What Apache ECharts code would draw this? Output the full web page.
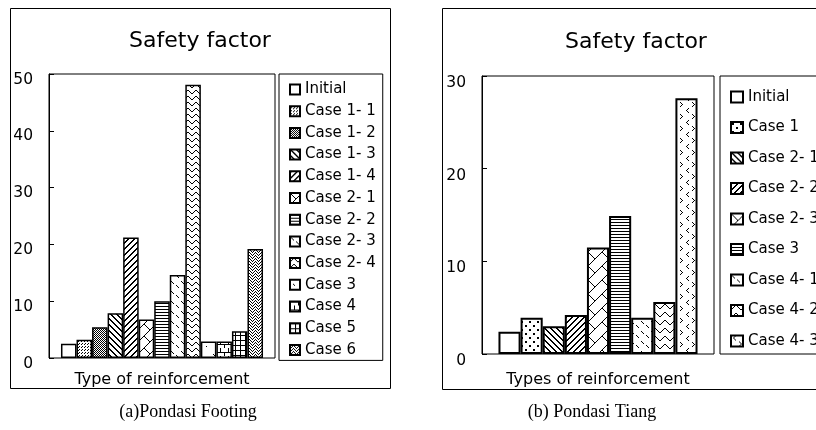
<!DOCTYPE html>
<html>
<head>
<meta charset="utf-8">
<script src="https://cdn.jsdelivr.net/npm/echarts@6/dist/echarts.min.js"></script>
<style>html,body{margin:0;padding:0;background:#fff}#c{width:816px;height:430px}</style>
</head>
<body>
<div id="c"></div>
<script>
// ---- data ----
const leftNames = ['Initial','Case 1- 1','Case 1- 2','Case 1- 3','Case 1- 4','Case 2- 1','Case 2- 2','Case 2- 3','Case 2- 4','Case 3','Case 4','Case 5','Case 6'];
const leftValues = [2.5, 3.2, 5.4, 7.9, 21.2, 6.8, 10.0, 14.6, 48.1, 2.9, 2.9, 4.7, 19.2];
const leftTicks = [0, 10, 20, 30, 40, 50];
const rightNames = ['Initial','Case 1','Case 2- 1','Case 2- 2','Case 2- 3','Case 3','Case 4- 1','Case 4- 2','Case 4- 3'];
const rightValues = [2.4, 3.9, 3.0, 4.2, 11.5, 14.9, 3.9, 5.6, 27.6];
const rightTicks = [0, 10, 20, 30];
const leftTitle = 'Safety factor', rightTitle = 'Safety factor';
const leftXName = 'Type of reinforcement', rightXName = 'Types of reinforcement';
const leftCaption = '(a)Pondasi Footing', rightCaption = '(b) Pondasi Tiang';

// ---- patterns ----
function pixTile(w, h, fn) {
  const c = document.createElement('canvas'); c.width = w; c.height = h;
  const g = c.getContext('2d'); const img = g.createImageData(w, h);
  for (let y = 0; y < h; y++) for (let x = 0; x < w; x++) {
    const v = fn(x, y) ? 0 : 255; const i = (y * w + x) * 4;
    img.data[i] = v; img.data[i+1] = v; img.data[i+2] = v; img.data[i+3] = 255;
  }
  g.putImageData(img, 0, 0);
  return { image: c, repeat: 'repeat' };
}
const P = {
  blank: '#ffffff',
  fineDots: pixTile(3, 3, (x, y) => (x === 1 && y === 1) || (x === 0 && y === 2)),
  denseDots: pixTile(2, 2, (x, y) => (x + y) % 2 === 0),
  diagDown: pixTile(6, 6, (x, y) => ((x - y) % 6 + 6) % 6 < 2),
  diagUp: pixTile(6, 6, (x, y) => (x + y) % 6 < 2),
  herring: pixTile(12, 12, (x, y) => (x + y) % 12 === 11 || (x === y && x < 6)),
  herringL: pixTile(14, 14, (x, y) => (x + y) % 14 === 13 || (x === y && x < 7)),
  hlines: pixTile(4, 3, (x, y) => y === 0),
  dashes: pixTile(10, 10, (x, y) => (x >= 1 && x <= 3 && x === y) || (x >= 6 && x <= 8 && x - y === 1)),
  wave: pixTile(8, 6, (x, y) => y === [3,2,1,0,0,1,2,3][x]),
  waveL: pixTile(10, 8, (x, y) => y === [4,3,2,1,0,0,1,2,3,4][x]),
  sparse: pixTile(14, 14, (x, y) => (x === 3 && y === 4) || (x === 4 && y === 5) || (x === 10 && y === 10)),
  brick: pixTile(8, 8, (x, y) => y === 0 || (y < 4 ? x === 0 : x === 4)),
  grid: pixTile(5, 5, (x, y) => x === 0 || y === 0),
  chev: pixTile(6, 6, (x, y) => y === Math.abs(x - 3) || (y + 3) % 6 === Math.abs(x - 3)),
  dotsSparse: pixTile(8, 8, (x, y) => (x >= 1 && x <= 2 && y >= 1 && y <= 2) || (x >= 5 && x <= 6 && y >= 5 && y <= 6)),
  angles: pixTile(12, 12, (x, y) => {
    const a = [[4,0],[3,1],[2,2],[3,3],[4,4],[8,6],[9,7],[10,8],[9,9],[8,10]];
    return a.some(p => p[0] === x && p[1] === y);
  })
};
const leftFills = [P.blank, P.fineDots, P.denseDots, P.diagDown, P.diagUp, P.herring, P.hlines, P.dashes, P.wave, P.sparse, P.brick, P.grid, P.chev];
const rightFills = [P.blank, P.dotsSparse, P.diagDown, P.diagUp, P.herringL, P.hlines, P.dashes, P.waveL, P.angles];

const FONT = 'DejaVu Sans';
const chart = echarts.init(document.getElementById('c'), null, { renderer: 'canvas' });

function yAxis(gridIndex, ticks, lh) {
  return {
    gridIndex, type: 'value', min: ticks[0], max: ticks[ticks.length - 1], interval: ticks[1] - ticks[0],
    axisLine: { show: true, lineStyle: { color: '#000', width: 1 } },
    axisTick: { show: true, inside: true, length: 5, lineStyle: { color: '#000' } },
    splitLine: { show: false },
    axisLabel: { color: '#000', fontSize: 15.5, fontFamily: FONT, margin: 16, verticalAlign: 'top', lineHeight: lh }
  };
}
function xAxis(gridIndex, name, gap) {
  return {
    gridIndex, type: 'category', data: [''],
    axisLine: { show: false }, axisTick: { show: false }, axisLabel: { show: false },
    name, nameLocation: 'middle', nameGap: gap,
    nameTextStyle: { color: '#000', fontSize: 16, fontFamily: FONT }
  };
}
const series = [];
leftNames.forEach((n, i) => series.push({
  type: 'bar', name: n, xAxisIndex: 0, yAxisIndex: 0, data: [leftValues[i]],
  barGap: '0%', barCategoryGap: '10.6%',
  itemStyle: { color: leftFills[i], borderColor: '#000', borderWidth: 1.5 }
}));
rightNames.forEach((n, i) => series.push({
  type: 'bar', name: 'R|' + n, xAxisIndex: 1, yAxisIndex: 1, data: [rightValues[i]],
  barGap: '0%', barCategoryGap: '14.2%',
  itemStyle: { color: rightFills[i], borderColor: '#000', borderWidth: 2 }
}));

const option = {
  animation: false,
  backgroundColor: '#fff',
  grid: [
    { left: 49, top: 74, width: 226, height: 284, show: true, borderColor: '#000', borderWidth: 1, outerBoundsMode: 'none', containLabel: false },
    { left: 482, top: 76, width: 232, height: 278, show: true, borderColor: '#000', borderWidth: 1, outerBoundsMode: 'none', containLabel: false }
  ],
  xAxis: [xAxis(0, leftXName, 14), xAxis(1, rightXName, 18)],
  yAxis: [yAxis(0, leftTicks, 11), yAxis(1, rightTicks, 14)],
  legend: [
    {
      data: leftNames, orient: 'vertical', left: 279, top: 74,
      padding: [6.5, 7, 1.5, 10], itemGap: 3.7, itemWidth: 10, itemHeight: 10, icon: 'rect',
      borderColor: '#000', borderWidth: 1,
      textStyle: { color: '#000', fontSize: 15, fontFamily: FONT, lineHeight: 10, padding: [8, 0, 0, 0] }
    },
    {
      data: rightNames.map(n => 'R|' + n), orient: 'vertical', left: 720, top: 76,
      padding: [11.5, 10, 3.5, 10], itemGap: 11.5, itemWidth: 12, itemHeight: 11, icon: 'rect',
      borderColor: '#000', borderWidth: 1,
      formatter: n => n.replace('R|', ''),
      textStyle: { color: '#000', fontSize: 15, fontFamily: FONT, lineHeight: 11, padding: [8, 0, 0, 0] }
    }
  ],
  graphic: [
    { type: 'rect', shape: { x: 10.5, y: 8.5, width: 380, height: 380 }, style: { fill: 'none', stroke: '#000', lineWidth: 1 }, silent: true },
    { type: 'rect', shape: { x: 442.5, y: 8.5, width: 420, height: 381 }, style: { fill: 'none', stroke: '#000', lineWidth: 1 }, silent: true },
    { type: 'text', style: { x: 200, y: 41, text: leftTitle, fill: '#000', font: '22px "DejaVu Sans"', textAlign: 'center', textVerticalAlign: 'middle' }, silent: true },
    { type: 'text', style: { x: 636, y: 42, text: rightTitle, fill: '#000', font: '22px "DejaVu Sans"', textAlign: 'center', textVerticalAlign: 'middle' }, silent: true },
    { type: 'text', style: { x: 188, y: 412, text: leftCaption, fill: '#000', font: '18px "Liberation Serif"', textAlign: 'center', textVerticalAlign: 'middle' }, silent: true },
    { type: 'text', style: { x: 592, y: 412, text: rightCaption, fill: '#000', font: '18px "Liberation Serif"', textAlign: 'center', textVerticalAlign: 'middle' }, silent: true }
  ],
  series
};
chart.setOption(option);
</script>
</body>
</html>
